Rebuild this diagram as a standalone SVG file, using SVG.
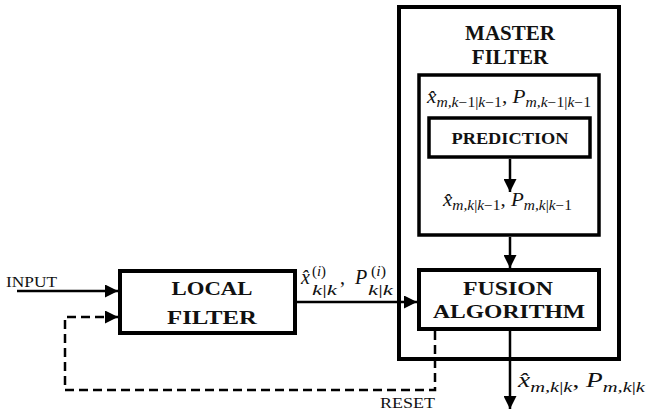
<svg xmlns="http://www.w3.org/2000/svg" width="646" height="410" viewBox="0 0 646 410">
<style>
.box{fill:none;stroke:#000;stroke-width:4}
.ibox{fill:none;stroke:#000;stroke-width:3.5}
.con{fill:none;stroke:#000;stroke-width:2.5}
.dash{stroke-dasharray:9 5}
.lbl{font-family:"Liberation Serif",serif;font-weight:bold;fill:#111;text-anchor:middle}
.rm{font-family:"Liberation Serif",serif;fill:#111}
.it{font-family:"Liberation Serif",serif;font-style:italic;fill:#111}
</style>
<defs>
<marker id="ah" markerUnits="userSpaceOnUse" markerWidth="13" markerHeight="13" refX="13" refY="6.5" orient="auto">
<path d="M0,0 L13,6.5 L0,13 z" fill="#000"/>
</marker>
</defs>
<rect width="646" height="410" fill="#fff"/>

<g id="master">
<rect class="box" x="399" y="7" width="220" height="352"/>
<text class="lbl" x="510" y="40" font-size="21">MASTER</text>
<text class="lbl" x="510" y="64" font-size="21">FILTER</text>
</g>

<g id="predblock">
<rect class="ibox" x="419" y="75" width="180" height="160"/>
<text class="it" x="427" y="103" font-size="19" textLength="164" lengthAdjust="spacingAndGlyphs">x̂<tspan font-size="14" dy="4">m,k</tspan><tspan class="rm" font-style="normal" font-size="14">−1|</tspan><tspan font-size="14">k</tspan><tspan class="rm" font-style="normal" font-size="14">−1</tspan><tspan class="rm" font-style="normal" dy="-4">,  </tspan>P<tspan font-size="14" dy="4">m,k</tspan><tspan class="rm" font-style="normal" font-size="14">−1|</tspan><tspan font-size="14">k</tspan><tspan class="rm" font-style="normal" font-size="14">−1</tspan></text>
<text class="it" x="443" y="206" font-size="19" textLength="129" lengthAdjust="spacingAndGlyphs">x̂<tspan font-size="14" dy="4">m,k</tspan><tspan class="rm" font-style="normal" font-size="14">|</tspan><tspan font-size="14">k</tspan><tspan class="rm" font-style="normal" font-size="14">−1</tspan><tspan class="rm" font-style="normal" dy="-4">,  </tspan>P<tspan font-size="14" dy="4">m,k</tspan><tspan class="rm" font-style="normal" font-size="14">|</tspan><tspan font-size="14">k</tspan><tspan class="rm" font-style="normal" font-size="14">−1</tspan></text>
</g>

<g id="prediction">
<rect class="ibox" x="429" y="118" width="161" height="39"/>
<text class="lbl" x="510" y="144" font-size="16" textLength="117" lengthAdjust="spacingAndGlyphs">PREDICTION</text>
</g>

<g id="fusion">
<rect class="box" x="419" y="270" width="180" height="59"/>
<text class="lbl" x="508" y="295" font-size="19" textLength="90" lengthAdjust="spacingAndGlyphs">FUSION</text>
<text class="lbl" x="509" y="318" font-size="19" textLength="152" lengthAdjust="spacingAndGlyphs">ALGORITHM</text>
</g>

<g id="local">
<rect class="box" x="120" y="271" width="175" height="62"/>
<text class="lbl" x="212" y="295" font-size="19" textLength="81" lengthAdjust="spacingAndGlyphs">LOCAL</text>
<text class="lbl" x="212" y="324" font-size="19" textLength="90" lengthAdjust="spacingAndGlyphs">FILTER</text>
</g>

<g id="connectors">
<line class="con" x1="17" y1="291" x2="118" y2="291" marker-end="url(#ah)"/>
<path class="con dash" d="M435,331 V390 H65 V317 H118" marker-end="url(#ah)"/>
<line class="con" x1="297" y1="302" x2="417" y2="302" marker-end="url(#ah)"/>
<line class="con" x1="510" y1="159" x2="510" y2="192" marker-end="url(#ah)"/>
<line class="con" x1="510" y1="237" x2="510" y2="268" marker-end="url(#ah)"/>
<line class="con" x1="510" y1="331" x2="510" y2="409" marker-end="url(#ah)"/>
</g>

<g id="labels">
<text class="rm" x="6" y="287" font-size="14" textLength="51" lengthAdjust="spacingAndGlyphs">INPUT</text>
<text class="rm" x="380" y="408" font-size="14" textLength="55" lengthAdjust="spacingAndGlyphs">RESET</text>
<text class="it" x="301" y="284" font-size="20">x̂</text>
<text class="rm" x="312" y="276" font-size="15" textLength="14" lengthAdjust="spacingAndGlyphs">(<tspan font-style="italic">i</tspan>)</text>
<text class="it" x="312" y="295" font-size="15" textLength="25" lengthAdjust="spacingAndGlyphs">k<tspan class="rm" font-style="normal">|</tspan>k</text>
<text class="rm" x="340" y="284" font-size="20">,</text>
<text class="it" x="355" y="284" font-size="20">P</text>
<text class="rm" x="371" y="276" font-size="15" textLength="15" lengthAdjust="spacingAndGlyphs">(<tspan font-style="italic">i</tspan>)</text>
<text class="it" x="368" y="295" font-size="15" textLength="25" lengthAdjust="spacingAndGlyphs">k<tspan class="rm" font-style="normal">|</tspan>k</text>
<text class="it" x="518" y="387" font-size="20" textLength="127" lengthAdjust="spacingAndGlyphs">x̂<tspan font-size="15" dy="5">m,k</tspan><tspan class="rm" font-style="normal" font-size="15">|</tspan><tspan font-size="15">k</tspan><tspan class="rm" font-style="normal" dy="-5">,  </tspan>P<tspan font-size="15" dy="5">m,k</tspan><tspan class="rm" font-style="normal" font-size="15">|</tspan><tspan font-size="15">k</tspan></text>
</g>
</svg>
